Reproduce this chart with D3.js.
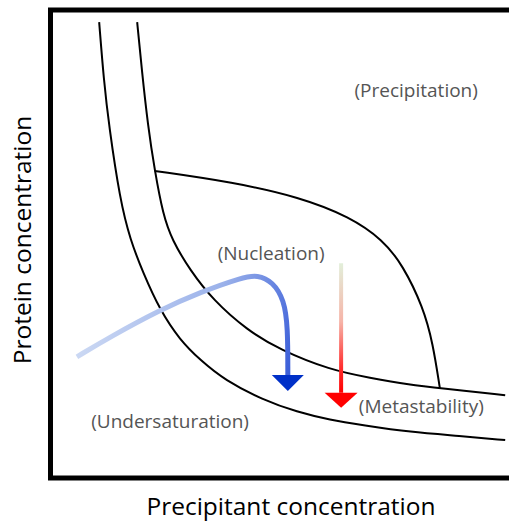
<!DOCTYPE html>
<html>
<head>
<meta charset="utf-8">
<script src="https://cdn.jsdelivr.net/npm/d3@7"></script>
<style>
  body { margin: 0; background: #fff; }
  svg { display: block; }
</style>
</head>
<body>
<svg id="chart"></svg>
<script>
const W = 509;
const H = 521;

// Phase boundaries, in arbitrary concentration units (0-100 on both axes)
const solubilityCurve = [
  [10.5, 97.4], [11.5, 85.0], [12.6, 75.4], [15.0, 59.4], [17.2, 50.9],
  [20.0, 43.8], [23.6, 35.9], [27.9, 29.5], [32.3, 25.2], [37.6, 20.9],
  [45.8, 16.7], [53.2, 14.1], [60.3, 12.4], [67.4, 11.3], [77.6, 9.8],
  [88.3, 9.0], [98.1, 8.1]
];
const supersolubilityCurve = [
  [18.7, 97.4], [19.7, 87.2], [21.0, 75.4], [22.5, 65.6], [24.3, 56.2],
  [26.2, 50.9], [30.1, 44.4], [35.1, 38.0], [42.4, 31.6], [49.5, 27.4],
  [60.3, 23.1], [68.9, 21.4], [77.6, 19.9], [84.0, 19.2], [98.1, 17.7]
];
const precipitationCurve = [
  [22.5, 65.6], [39.4, 63.2], [53.8, 60.0], [64.6, 55.8], [71.7, 50.9],
  [76.0, 45.5], [80.4, 36.5], [82.5, 28.8], [84.0, 19.2]
];

// Crystallisation trajectories
const bluePath = [
  [5.7, 25.9], [12.8, 30.1], [23.6, 35.9], [32.3, 39.7], [41.5, 42.9],
  [44.6, 43.4], [48.0, 41.9], [50.4, 38.0], [51.2, 32.3], [51.2, 22.0]
];
const redPath = [[62.7, 45.9], [62.7, 18.2]];

const regionLabels = [
  { text: "(Precipitation)", x: 78.9, y: 81.5 },
  { text: "(Nucleation)", x: 47.6, y: 46.6 },
  { text: "(Undersaturation)", x: 25.8, y: 10.7 },
  { text: "(Metastability)", x: 80.0, y: 13.9 }
];

const xTitle = "Precipitant concentration";
const yTitle = "Protein concentration";

const frame = { left: 50.5, top: 10, right: 514, bottom: 478 };

const x = d3.scaleLinear().domain([0, 100]).range([frame.left, frame.right]);
const y = d3.scaleLinear().domain([0, 100]).range([frame.bottom, frame.top]);

const svg = d3.select("#chart").attr("width", W).attr("height", H);

const defs = svg.append("defs");

const blueGrad = defs.append("linearGradient")
  .attr("id", "blueGrad")
  .attr("gradientUnits", "userSpaceOnUse")
  .attr("x1", x(5.7)).attr("y1", y(34))
  .attr("x2", x(53)).attr("y2", y(18));
blueGrad.append("stop").attr("offset", 0).attr("stop-color", "#d0dcf4");
blueGrad.append("stop").attr("offset", 0.55).attr("stop-color", "#9ab1ea");
blueGrad.append("stop").attr("offset", 1).attr("stop-color", "#2d52d6");

const redGrad = defs.append("linearGradient")
  .attr("id", "redGrad")
  .attr("gradientUnits", "userSpaceOnUse")
  .attr("x1", 0).attr("y1", y(45.9))
  .attr("x2", 0).attr("y2", y(18.2));
redGrad.append("stop").attr("offset", 0).attr("stop-color", "#e2efda");
redGrad.append("stop").attr("offset", 0.45).attr("stop-color", "#f6b4a8");
redGrad.append("stop").attr("offset", 0.8).attr("stop-color", "#ff3030");
redGrad.append("stop").attr("offset", 1).attr("stop-color", "#ff0000");

// Frame
svg.append("rect")
  .attr("x", frame.left)
  .attr("y", frame.top)
  .attr("width", frame.right - frame.left)
  .attr("height", frame.bottom - frame.top)
  .attr("fill", "none")
  .attr("stroke", "#000")
  .attr("stroke-width", 5);

// B-spline smooths out the small reading errors in the traced points
const line = d3.line()
  .x(d => x(d[0]))
  .y(d => y(d[1]))
  .curve(d3.curveBasis);

[solubilityCurve, supersolubilityCurve, precipitationCurve].forEach(c => {
  svg.append("path")
    .attr("d", line(c))
    .attr("fill", "none")
    .attr("stroke", "#000")
    .attr("stroke-width", 2);
});

// Arrow head: base centred on the last point, pointing down
function arrowHead(pt, halfW, len, color) {
  const bx = x(pt[0]);
  const by = y(pt[1]);
  svg.append("path")
    .attr("d", `M${bx - halfW},${by}L${bx + halfW},${by}L${bx},${by + len}Z`)
    .attr("fill", color);
}

svg.append("path")
  .attr("d", line(bluePath))
  .attr("fill", "none")
  .attr("stroke", "url(#blueGrad)")
  .attr("stroke-width", 5)
  .attr("stroke-linecap", "butt");
arrowHead(bluePath[bluePath.length - 1], 16, 16, "#0030c8");

svg.append("path")
  .attr("d", line(redPath))
  .attr("fill", "none")
  .attr("stroke", "url(#redGrad)")
  .attr("stroke-width", 4);
arrowHead(redPath[redPath.length - 1], 16.5, 15, "#ff0000");

// Region labels
svg.append("g")
  .selectAll("text")
  .data(regionLabels)
  .join("text")
  .attr("x", d => x(d.x))
  .attr("y", d => y(d.y))
  .attr("text-anchor", "middle")
  .attr("font-family", "'Open Sans', sans-serif")
  .attr("font-size", 19)
  .attr("fill", "#555")
  .text(d => d.text);

// Axis titles
svg.append("text")
  .attr("x", 291)
  .attr("y", 515)
  .attr("text-anchor", "middle")
  .attr("font-family", "'Open Sans', sans-serif")
  .attr("font-size", 24.5)
  .attr("fill", "#000")
  .text(xTitle);

svg.append("text")
  .attr("transform", "translate(31,240) rotate(-90)")
  .attr("text-anchor", "middle")
  .attr("font-family", "'Open Sans', sans-serif")
  .attr("font-size", 24.5)
  .attr("fill", "#000")
  .text(yTitle);
</script>
</body>
</html>
